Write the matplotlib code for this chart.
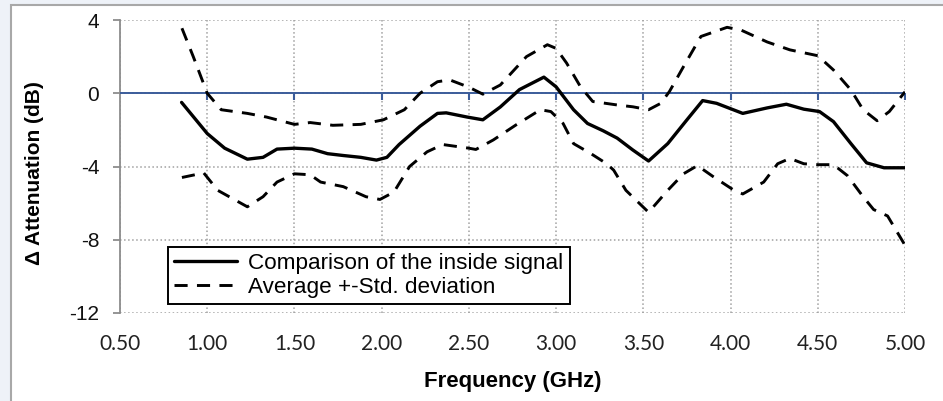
import numpy as np
import matplotlib.pyplot as plt
from matplotlib.patches import Rectangle
from matplotlib.markers import TICKDOWN

# values
freq_sig = [0.853, 1.00, 1.10, 1.23, 1.32, 1.40, 1.50, 1.60, 1.69, 1.78, 1.88, 1.97,
            2.03, 2.10, 2.22, 2.32, 2.37, 2.49, 2.58, 2.68, 2.79, 2.93, 3.00, 3.10,
            3.18, 3.27, 3.35, 3.44, 3.53, 3.64, 3.75, 3.84, 3.92, 4.07, 4.21, 4.32,
            4.42, 4.51, 4.59, 4.69, 4.78, 4.88, 5.00]
att_sig = [-0.5, -2.2, -3.0, -3.6, -3.5, -3.05, -3.0, -3.05, -3.3, -3.4, -3.5, -3.65,
           -3.5, -2.8, -1.8, -1.1, -1.07, -1.3, -1.45, -0.75, 0.2, 0.88, 0.35, -0.9,
           -1.65, -2.05, -2.45, -3.1, -3.7, -2.75, -1.45, -0.4, -0.55, -1.1, -0.8, -0.6,
           -0.87, -1.0, -1.55, -2.75, -3.8, -4.07, -4.07]

freq_up = [0.855, 0.92, 1.00, 1.08, 1.23, 1.34, 1.50, 1.59, 1.72, 1.88, 2.01, 2.13,
           2.22, 2.32, 2.39, 2.50, 2.58, 2.68, 2.83, 2.95, 3.00, 3.06, 3.14, 3.21,
           3.35, 3.44, 3.53, 3.60, 3.65, 3.73, 3.83, 3.98, 4.06, 4.21, 4.34, 4.50,
           4.59, 4.69, 4.76, 4.84, 4.91, 5.00]
att_up = [3.55, 2.0, 0.0, -0.9, -1.1, -1.3, -1.7, -1.6, -1.75, -1.7, -1.45, -0.9,
          0.0, 0.63, 0.73, 0.33, -0.05, 0.45, 2.0, 2.65, 2.45, 1.65, 0.35, -0.45,
          -0.64, -0.74, -0.9, -0.55, 0.1, 1.45, 3.1, 3.6, 3.45, 2.8, 2.37, 2.05,
          1.27, 0.18, -0.9, -1.5, -1.0, 0.08]

freq_low = [0.855, 0.98, 1.06, 1.23, 1.32, 1.40, 1.50, 1.59, 1.65, 1.78, 1.91, 1.99,
            2.07, 2.16, 2.26, 2.35, 2.50, 2.54, 2.64, 2.77, 2.91, 2.97, 3.04, 3.10,
            3.20, 3.29, 3.33, 3.40, 3.53, 3.64, 3.73, 3.81, 3.90, 4.02, 4.07, 4.19,
            4.27, 4.34, 4.42, 4.50, 4.59, 4.67, 4.76, 4.82, 4.90, 5.00]
att_low = [-4.6, -4.35, -5.3, -6.2, -5.65, -4.85, -4.4, -4.45, -4.85, -5.1, -5.65, -5.8,
           -5.4, -4.0, -3.2, -2.8, -3.0, -3.07, -2.55, -1.73, -0.9, -1.0, -1.65, -2.75,
           -3.3, -3.85, -4.2, -5.3, -6.5, -5.3, -4.4, -3.95, -4.55, -5.3, -5.5, -4.85,
           -3.85, -3.56, -3.85, -3.9, -3.9, -4.5, -5.65, -6.35, -6.7, -8.3]

xticks = np.arange(0.5, 5.01, 0.5)
yticks = [-12, -8, -4, 0, 4]

blue = '#3B5C9A'
lab_font = ['Liberation Sans', 'DejaVu Sans']

fig = plt.figure(figsize=(9.43, 4.01), dpi=100, facecolor='#EEF2F8')
fig.add_artist(Rectangle((11 / 943, -0.1), 1.1, 1.1 - 5 / 401, transform=fig.transFigure,
                         facecolor='white', edgecolor='#A8A8A8', lw=1.5, zorder=-10))
ax = fig.add_axes([120 / 943, 1 - 313 / 401, 785 / 943, 293 / 401])
ax.set_facecolor('none')

# horizontal axis crossing at 0 dB, with its tick marks
ax.axhline(0, color=blue, lw=1.4, zorder=3)
ax.plot(xticks[1:], np.zeros(len(xticks) - 1), linestyle='none', marker=TICKDOWN,
        markersize=5, mew=1.5, color=blue, zorder=3)

ax.plot(freq_sig, att_sig, color='black', lw=2.4, solid_capstyle='round',
        label='Comparison of the inside signal', zorder=5)
ax.plot(freq_up, att_up, color='black', lw=2.1, linestyle=(0, (4.5, 3.2)),
        label='Average +-Std. deviation', zorder=5)
ax.plot(freq_low, att_low, color='black', lw=2.1, linestyle=(0, (4.5, 3.2)), zorder=5)

ax.set_xlim(0.5, 5.0)
ax.set_ylim(-12, 4)
ax.set_xticks(xticks)
ax.set_xticklabels(['%.2f' % v for v in xticks], fontfamily='Lato', fontsize=15,
                   color='#222222')
ax.set_yticks(yticks)
ax.set_yticklabels([str(v) for v in yticks], fontfamily=lab_font, fontsize=15,
                   color='#111111')
ax.grid(True, linestyle=':', color='#A0A0A0', lw=1.1)
ax.set_axisbelow(True)

for s in ['top', 'right', 'bottom']:
    ax.spines[s].set_visible(False)
ax.spines['left'].set_color('#8C8C8C')
ax.spines['left'].set_linewidth(1.3)
ax.tick_params(axis='y', length=5, color='#8C8C8C', width=1.3, pad=10)
ax.tick_params(axis='x', length=0, pad=15)

ax.set_xlabel('Frequency (GHz)', fontfamily=lab_font, fontweight='bold', fontsize=16,
              labelpad=12)
ax.set_ylabel('Δ Attenuation (dB)', fontfamily=lab_font, fontweight='bold', fontsize=15)
ax.yaxis.set_label_coords(-0.097, 0.478)

leg = ax.legend(loc='lower left', bbox_to_anchor=(0.061, 0.031), borderaxespad=0,
                prop={'family': lab_font, 'size': 16.2}, fancybox=False, framealpha=1,
                edgecolor='black', handlelength=2.8, handletextpad=0.5,
                borderpad=0.28, labelspacing=0.1)
leg.get_frame().set_linewidth(1.4)

fig.savefig('out.png', dpi=100, facecolor=fig.get_facecolor())
